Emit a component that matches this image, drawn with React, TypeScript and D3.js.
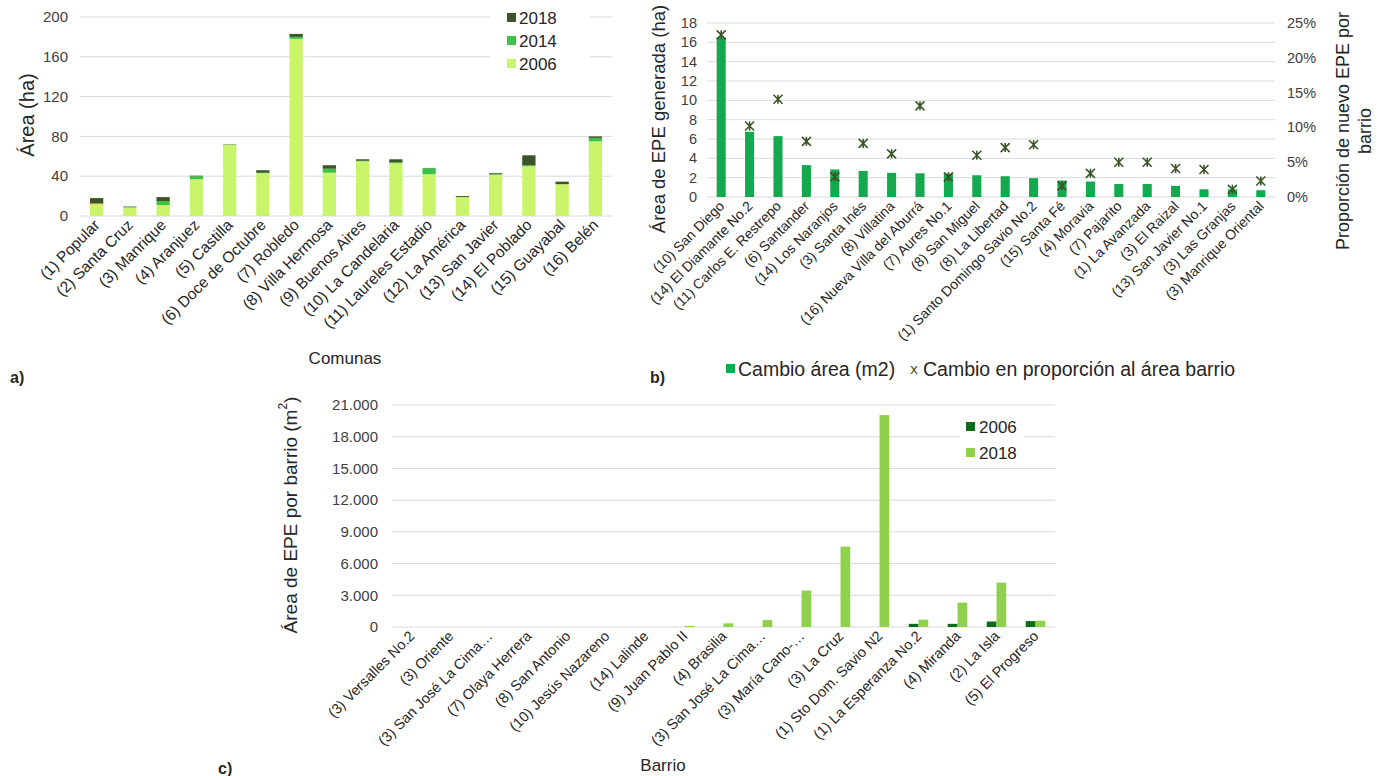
import React from "react";
import * as d3 from "d3";

// ---------- Panel a ----------
const comunas = [
  "(1) Popular", "(2) Santa Cruz", "(3) Manrique", "(4) Aranjuez", "(5) Castilla",
  "(6) Doce de Octubre", "(7) Robledo", "(8) Villa Hermosa", "(9) Buenos Aires",
  "(10) La Candelaria", "(11) Laureles Estadio", "(12) La América", "(13) San Javier",
  "(14) El Poblado", "(15) Guayabal", "(16) Belén",
];
const area2006 = [12, 8.5, 11, 37, 71.5, 43, 178, 43.5, 55, 53, 42, 19, 41.5, 50, 32, 75];
const area2014 = [1, 0.5, 4, 3, 0.3, 0.5, 2, 4, 0.5, 1, 6, 0, 0.5, 1, 0, 3.5];
const area2018 = [5, 0.5, 4, 0.5, 0.3, 2.5, 3, 3.5, 1.5, 3, 0.3, 1, 1, 10, 2.5, 1.5];
const aTicks = [0, 40, 80, 120, 160, 200];
const aYears = ["2006", "2014", "2018"];

// ---------- Panel b ----------
const barriosB = [
  "(10) San Diego", "(14) El Diamante No.2", "(11) Carlos E. Restrepo", "(6) Santander",
  "(14) Los Naranjos", "(3) Santa Inés", "(8) Villatina", "(16) Nueva Villa del Aburrá",
  "(7) Aures No.1", "(8) San Miguel", "(8) La Libertad", "(1) Santo Domingo Savio No.2",
  "(15) Santa Fé", "(4) Moravia", "(7) Pajarito", "(1) La Avanzada", "(3) El Raizal",
  "(13) San Javier No.1", "(3) Las Granjas", "(3) Manrique Oriental",
];
const cambioArea = [16.5, 6.75, 6.3, 3.3, 2.85, 2.7, 2.5, 2.45, 2.4, 2.25, 2.15, 1.95, 1.7, 1.6, 1.35, 1.35, 1.15, 0.8, 0.8, 0.7];
const cambioProp = [23.3, 10.2, 14.05, 8.0, 2.9, 7.7, 6.2, 13.1, 2.9, 6.0, 7.1, 7.5, 1.6, 3.4, 5.0, 5.0, 4.1, 3.95, 1.1, 2.3];
const bLeftTicks = [0, 2, 4, 6, 8, 10, 12, 14, 16, 18];
const bRightTicks = [0, 5, 10, 15, 20, 25];

// ---------- Panel c ----------
const barriosC = [
  "(3) Versalles No.2", "(3) Oriente", "(3) San José La Cima…", "(7) Olaya Herrera",
  "(8) San Antonio", "(10) Jesús Nazareno", "(14) Lalinde", "(9) Juan Pablo II",
  "(4) Brasilia", "(3) San José La Cima…", "(3) María Cano-…", "(3) La Cruz",
  "(1) Sto Dom. Savio N2", "(1) La Esperanza No.2", "(4) Miranda", "(2) La Isla",
  "(5) El Progreso",
];
const epe2006 = [0, 0, 0, 0, 0, 0, 0, 0, 0, 0, 0, 0, 0, 300, 300, 520, 560];
const epe2018 = [0, 0, 0, 0, 0, 0, 0, 100, 350, 650, 3450, 7600, 20050, 700, 2300, 4200, 600];
const cTicks = [0, 3000, 6000, 9000, 12000, 15000, 18000, 21000];
const cYears = ["2006", "2018"];

const FONT = "'Liberation Sans', Arial, sans-serif";
const GRID = "#d9d9d9";
const TICK = "#404040";
const TXT = "#262626";

const colA: Record<string, string> = { "2006": "#c9f56b", "2014": "#3cc247", "2018": "#3b5526" };
const colB = "#14a94f";
const colMark = "#3b5526";
const colC: Record<string, string> = { "2006": "#0d6a1c", "2018": "#8fd14f" };

const esFormat = d3.formatLocale({ decimal: ",", thousands: ".", grouping: [3], currency: ["", ""] }).format(",d");

function Star({ x, y, r }: { x: number; y: number; r: number }) {
  const d = `M${x - r},${y - r}L${x + r},${y + r}M${x - r},${y + r}L${x + r},${y - r}M${x},${y - r}L${x},${y + r}`;
  return <path d={d} stroke={colMark} strokeWidth={1.6} fill="none" />;
}

function PanelA() {
  const idx = comunas.map((_, i) => i);
  const x = d3.scaleBand<number>().domain(idx).range([80, 612]).paddingInner(0.6).paddingOuter(0.3);
  const y = d3.scaleLinear().domain([0, 200]).range([216, 17]);
  const rows = idx.map((i) => ({ i, "2006": area2006[i], "2014": area2014[i], "2018": area2018[i] }));
  const series = d3.stack<any>().keys(aYears)(rows);
  return (
    <g>
      {aTicks.map((t) => (
        <g key={t}>
          <line x1={80} x2={612} y1={y(t)} y2={y(t)} stroke={GRID} strokeWidth={1} />
          <text x={68} y={y(t)} dy="0.35em" textAnchor="end" fontSize={15} fill={TICK}>{t}</text>
        </g>
      ))}
      {series.map((s) => (
        <g key={s.key} fill={colA[s.key]}>
          {s.map((d: any, j: number) => (
            <rect key={j} x={x(j)} width={x.bandwidth()} y={y(d[1])} height={Math.max(0, y(d[0]) - y(d[1]))} />
          ))}
        </g>
      ))}
      {idx.map((i) => (
        <text key={i} transform={`translate(${(x(i) as number) + x.bandwidth() / 2 + 4},${226}) rotate(-45)`}
          textAnchor="end" fontSize={15.5} fill={TXT}>{comunas[i]}</text>
      ))}
      <text transform="translate(27,115) rotate(-90)" textAnchor="middle" dominantBaseline="central" fontSize={20} fill={TXT}>Área (ha)</text>
      <text x={345} y={364} textAnchor="middle" fontSize={17} fill={TXT}>Comunas</text>
      <rect x={490} y={6} width={100} height={70} fill="#fff" />
      {["2018", "2014", "2006"].map((k, j) => (
        <g key={k}>
          <rect x={507} y={13 + j * 23} width={9} height={9} fill={colA[k]} />
          <text x={519} y={18 + j * 23} dy="0.35em" fontSize={17} fill={TXT}>{k}</text>
        </g>
      ))}
      <text x={10} y={383} fontSize={16} fontWeight="bold" fill={TXT}>a)</text>
    </g>
  );
}

function PanelB() {
  const idx = barriosB.map((_, i) => i);
  const x = d3.scaleBand<number>().domain(idx).range([707, 1275]).paddingInner(0.68).paddingOuter(0.34);
  const yL = d3.scaleLinear().domain([0, 18]).range([197, 23]);
  const yR = d3.scaleLinear().domain([0, 25]).range([197, 23]);
  return (
    <g>
      {bLeftTicks.map((t) => (
        <g key={t}>
          <line x1={707} x2={1275} y1={yL(t)} y2={yL(t)} stroke={GRID} />
          <text x={697} y={yL(t)} dy="0.35em" textAnchor="end" fontSize={14.5} fill={TICK}>{t}</text>
        </g>
      ))}
      {bRightTicks.map((t) => (
        <text key={t} x={1287} y={yR(t)} dy="0.35em" fontSize={14.5} fill={TICK}>{t}%</text>
      ))}
      {idx.map((i) => (
        <rect key={i} x={x(i)} width={x.bandwidth()} y={yL(cambioArea[i])} height={yL(0) - yL(cambioArea[i])} fill={colB} />
      ))}
      {idx.map((i) => (
        <Star key={i} x={(x(i) as number) + x.bandwidth() / 2} y={yR(cambioProp[i])} r={4.5} />
      ))}
      {idx.map((i) => (
        <text key={i} transform={`translate(${(x(i) as number) + x.bandwidth() / 2 + 4},${207}) rotate(-45)`}
          textAnchor="end" fontSize={14} fill={TXT}>{barriosB[i]}</text>
      ))}
      <text transform="translate(658,119) rotate(-90)" textAnchor="middle" dominantBaseline="central" fontSize={18.5} fill={TXT}>Área de EPE generada (ha)</text>
      <text transform="translate(1343,131) rotate(-90)" textAnchor="middle" dominantBaseline="central" fontSize={18} fill={TXT}>
        <tspan x={0} dy={0}>Proporción de nuevo EPE por</tspan>
        <tspan x={0} dy={22}>barrio</tspan>
      </text>
      <rect x={726} y={364} width={9} height={9} fill={colB} />
      <text x={738} y={369} dy="0.35em" fontSize={19.5} fill={TXT}>Cambio área (m2)</text>
      <text x={914} y={369} dy="0.35em" textAnchor="middle" fontSize={15} fill={colMark}>x</text>
      <text x={923} y={369} dy="0.35em" fontSize={19.5} fill={TXT}>Cambio en proporción al área barrio</text>
      <text x={650} y={383} fontSize={16} fontWeight="bold" fill={TXT}>b)</text>
    </g>
  );
}

function PanelC() {
  const idx = barriosC.map((_, i) => i);
  const x = d3.scaleBand<number>().domain(idx).range([392, 1055]).paddingInner(0.5).paddingOuter(0.25);
  const x1 = d3.scaleBand<string>().domain(cYears).range([0, x.bandwidth()]);
  const y = d3.scaleLinear().domain([0, 21000]).range([627, 405]);
  const vals: Record<string, number[]> = { "2006": epe2006, "2018": epe2018 };
  return (
    <g>
      {cTicks.map((t) => (
        <g key={t}>
          <line x1={392} x2={1055} y1={y(t)} y2={y(t)} stroke={GRID} />
          <text x={378} y={y(t)} dy="0.35em" textAnchor="end" fontSize={15} fill={TICK}>{esFormat(t)}</text>
        </g>
      ))}
      {idx.map((i) => (
        <g key={i}>
          {cYears.map((k) => (
            <rect key={k} x={(x(i) as number) + (x1(k) as number)} width={x1.bandwidth()}
              y={y(vals[k][i])} height={y(0) - y(vals[k][i])} fill={colC[k]} />
          ))}
        </g>
      ))}
      {idx.map((i) => (
        <text key={i} transform={`translate(${(x(i) as number) + x.bandwidth() / 2 + 4},${637}) rotate(-45)`}
          textAnchor="end" fontSize={14.5} fill={TXT}>{barriosC[i]}</text>
      ))}
      <text transform="translate(290,515) rotate(-90)" textAnchor="middle" dominantBaseline="central" fontSize={19} fill={TXT}>
        Área de EPE por barrio (m<tspan baselineShift="super" fontSize={12}>2</tspan>)
      </text>
      <text x={663} y={771} textAnchor="middle" fontSize={17} fill={TXT}>Barrio</text>
      <rect x={960} y={413} width={64} height={50} fill="#fff" />
      {cYears.map((k, j) => (
        <g key={k}>
          <rect x={966} y={422 + j * 26} width={9} height={9} fill={colC[k]} />
          <text x={979} y={427 + j * 26} dy="0.35em" fontSize={17} fill={TXT}>{k}</text>
        </g>
      ))}
      <text x={218} y={774} fontSize={16} fontWeight="bold" fill={TXT}>c)</text>
    </g>
  );
}

export default function App() {
  return (
    <div style={{ position: "absolute", left: 0, top: 0 }}>
      <svg width={1383} height={776} style={{ display: "block", background: "#fff", fontFamily: FONT }}>
        <PanelA />
        <PanelB />
        <PanelC />
      </svg>
    </div>
  );
}
